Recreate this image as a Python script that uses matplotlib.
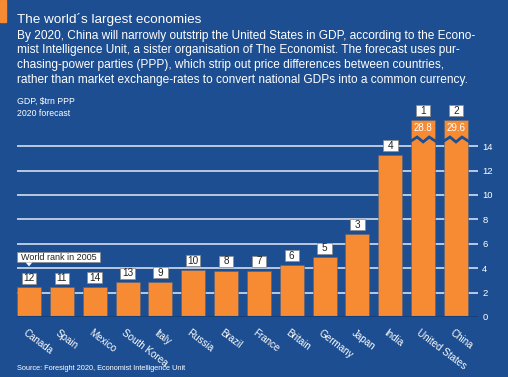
import matplotlib.pyplot as plt
from matplotlib.patches import Polygon, Rectangle

plt.rcParams['font.family'] = ['Liberation Sans', 'DejaVu Sans']

# data
countries = ['Canada', 'Spain', 'Mexico', 'South Korea', 'Italy', 'Russia', 'Brazil',
             'France', 'Britain', 'Germany', 'Japan', 'India', 'United States', 'China']
gdp_2020 = [2.43, 2.43, 2.47, 2.84, 2.87, 3.88, 3.8, 3.8, 4.26, 4.89, 6.8, 13.3, 28.8, 29.6]
rank_2005 = [12, 11, 14, 13, 9, 10, 8, 7, 6, 5, 3, 4, 1, 2]
yticks = [0, 2, 4, 6, 8, 10, 12, 14]

bg = '#1d4e91'
orange = '#f68b33'
cap = 16.15  # bars above this are drawn broken

fig = plt.figure(figsize=(5.08, 3.77), dpi=100, facecolor=bg)
# small orange tab top-left
fig.patches.append(plt.Rectangle((0, 1 - 22 / 377), 6 / 508, 22 / 377,
                                 transform=fig.transFigure, color=orange))

fig.text(17 / 508, 1 - 20 / 377, 'The world\u00b4s largest economies', color='white',
         fontsize=9.7, va='center')
sub = ('By 2020, China will narrowly outstrip the United States in GDP, according to the Econo-\n'
       'mist Intelligence Unit, a sister organisation of The Economist. The forecast uses pur-\n'
       'chasing-power parties (PPP), which strip out price differences between countries,\n'
       'rather than market exchange-rates to convert national GDPs into a common currency.')
fig.text(17 / 508, 1 - 29.5 / 377, sub, color='white', fontsize=8.55, va='top',
         linespacing=1.33)
fig.text(17 / 508, 1 - 107 / 377, 'GDP, $trn PPP\n2020 forecast', color='white',
         fontsize=6.3, va='center', linespacing=1.45)
fig.text(17 / 508, 1 - 368 / 377, 'Source: Foresight 2020, Economist Intelligence Unit',
         color='white', fontsize=5.3, va='center')

ax = fig.add_axes([17 / 508, 60 / 377, 461 / 508, (17 * 12.2) / 377])
ax.set_facecolor(bg)
ax.set_xlim(-0.365, 13.67)
ax.set_ylim(0, 17)
for s in ax.spines.values():
    s.set_visible(False)

for y in yticks[1:]:
    ax.axhline(y, color='#e4eaf3', lw=1.1, zorder=1)
ax.axhline(0, color='#173f78', lw=1.5, zorder=3)

x = list(range(len(countries)))
heights = [min(v, cap) for v in gdp_2020]
ax.bar(x, heights, width=0.73, color=orange, edgecolor='#55627e', linewidth=0.4, zorder=2)

bw, bh = 0.44, 0.9  # rank box size in data units
for i, v in enumerate(gdp_2020):
    h = heights[i]
    if v > cap:
        # break mark
        w = 0.365
        zx = [i - w - 0.05, i - w / 2, i, i + w / 2, i + w + 0.05]
        zy = [14.35, 14.75, 14.35, 14.75, 14.35]
        ax.plot(zx, zy, color=bg, lw=2.0, zorder=4, solid_joinstyle='miter')
        ax.text(i, 15.5, f'{v:.1f}', color='white', ha='center', va='center',
                fontsize=7, zorder=5)
    ax.add_patch(Rectangle((i - bw / 2, h + 0.3), bw, bh, fc='white', ec='#8a8a8a',
                           lw=0.5, zorder=5, clip_on=False))
    ax.text(i, h + 0.3 + bh / 2, str(rank_2005[i]), ha='center', va='center', fontsize=7.2,
            color='#222222', zorder=6)
    ax.text(i - 0.15, -1.2, countries[i], rotation=-37, rotation_mode='anchor',
            ha='left', va='center', color='white', fontsize=7.1)

ax.set_xticks([])
ax.set_yticks(yticks)
ax.yaxis.tick_right()
ax.tick_params(axis='y', length=0, pad=3, labelsize=6.8, labelcolor='white')

# world rank legend box with pointer
ax.add_patch(Rectangle((-0.365, 4.47), 2.52, 0.88, fc='white', ec='#8a8a8a', lw=0.5,
                       zorder=6))
ax.text(-0.25, 4.91, 'World rank in 2005', ha='left', va='center', fontsize=6.5,
        color='#222222', zorder=7)
ax.add_patch(Polygon([[-0.1, 4.47], [0.1, 4.47], [0.0, 4.15]], closed=True,
                     fc='white', ec='none', zorder=7))

plt.savefig('out.png', dpi=100, facecolor=bg)
